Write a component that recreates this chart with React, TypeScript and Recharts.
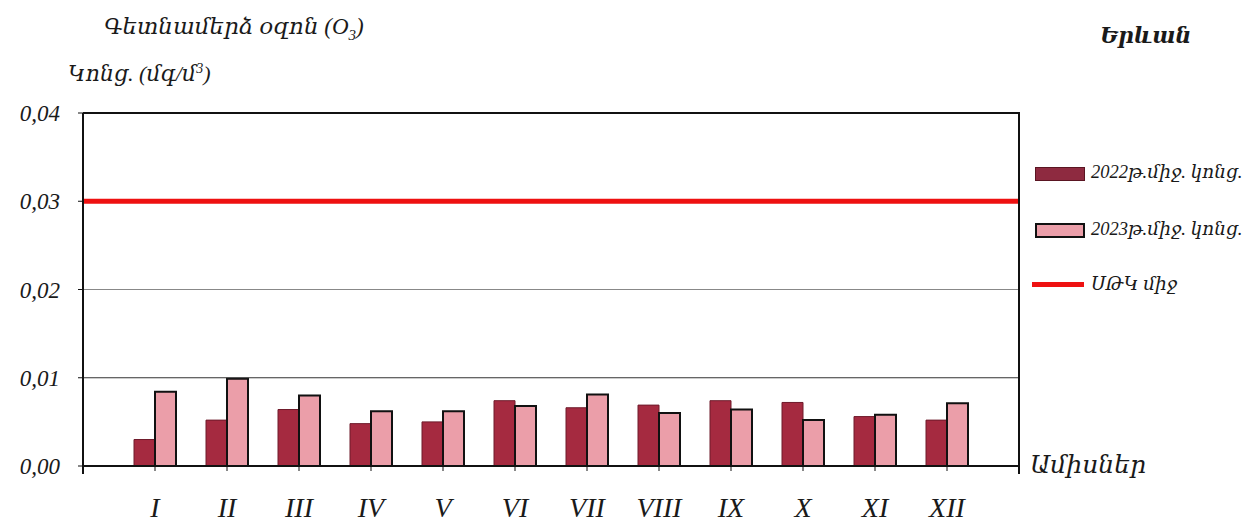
import { BarChart, Bar, XAxis, YAxis, ReferenceLine } from 'recharts';

const months = ['I', 'II', 'III', 'IV', 'V', 'VI', 'VII', 'VIII', 'IX', 'X', 'XI', 'XII'];
const avg2022 = [0.003, 0.0052, 0.0064, 0.0048, 0.005, 0.0074, 0.0066, 0.0069, 0.0074, 0.0072, 0.0056, 0.0052];
const avg2023 = [0.0084, 0.0099, 0.008, 0.0062, 0.0062, 0.0068, 0.0081, 0.006, 0.0064, 0.0052, 0.0058, 0.0071];
const mpcAvg = 0.03;
const yTicks = [0, 0.01, 0.02, 0.03, 0.04];

const seriesNames = ['2022թ.միջ. կոնց.', '2023թ.միջ. կոնց.', 'ՍԹԿ միջ'];

const data = months.map((m, i) => ({ month: m, y2022: avg2022[i], y2023: avg2023[i] }));

const FONT = "'Liberation Serif', 'DejaVu Serif', serif";
const C2022 = '#a52a40';
const C2023 = '#eb9ea9';

const fmt = (v: number) => v.toFixed(2).replace('.', ',');

const txt = (extra: React.CSSProperties): React.CSSProperties => ({
  position: 'absolute',
  fontFamily: FONT,
  fontStyle: 'italic',
  color: '#1a1a1a',
  whiteSpace: 'nowrap',
  lineHeight: 1,
  ...extra,
});

export default function App() {
  return (
    <div style={{ position: 'absolute', left: 0, top: 0, width: 1259, height: 525, background: '#fff' }}>
      <BarChart
        width={1259}
        height={525}
        data={data}
        margin={{ top: 113, right: 240, bottom: 0, left: 0 }}
        barGap={0}
        barSize={21}
      >
        <XAxis
          dataKey="month"
          padding={{ left: 36, right: 36 }}
          height={59}
          axisLine={{ stroke: '#111', strokeWidth: 2 }}
          tickLine={{ stroke: '#111' }}
          tickSize={5}
          tickMargin={26}
          tick={{ fill: '#1a1a1a', fontSize: 28, fontStyle: 'italic', fontFamily: FONT }}
        />
        <XAxis xAxisId="full" type="number" domain={[0, 1]} allowDataOverflow hide />
        <YAxis
          width={83}
          domain={[0, 0.04]}
          ticks={yTicks}
          tickFormatter={fmt}
          axisLine={{ stroke: '#111', strokeWidth: 2 }}
          tickLine={{ stroke: '#111' }}
          tickSize={5}
          tickMargin={18}
          tick={{ fill: '#1a1a1a', fontSize: 23, fontStyle: 'italic', fontFamily: FONT }}
        />
        <ReferenceLine xAxisId="full" y={0.01} stroke="#333" strokeWidth={1.2} />
        <ReferenceLine xAxisId="full" y={0.02} stroke="#888" strokeWidth={1} />
        <ReferenceLine xAxisId="full" y={0.04} stroke="#111" strokeWidth={2} />
        <Bar dataKey="y2022" fill={C2022} stroke="#6e1a2a" strokeWidth={1} isAnimationActive={false} />
        <Bar dataKey="y2023" fill={C2023} stroke="#111" strokeWidth={2} isAnimationActive={false} />
        <ReferenceLine xAxisId="full" y={mpcAvg} stroke="#ee1111" strokeWidth={5} />
      </BarChart>

      {/* plot frame: right edge and short stubs below the axis */}
      <div style={{ position: 'absolute', left: 1018, top: 112, width: 2, height: 362, background: '#111' }} />
      <div style={{ position: 'absolute', left: 82, top: 466, width: 2, height: 8, background: '#111' }} />

      <div style={txt({ left: 104, top: 15, fontSize: 23 })}>Գետնամերձ օզոն (O<sub style={{ fontSize: 15 }}>3</sub>)</div>
      <div style={txt({ left: 68, top: 62, fontSize: 22 })}>Կոնց. (մգ/մ<sup style={{ fontSize: 14 }}>3</sup>)</div>
      <div style={txt({ left: 1100, top: 25, fontSize: 22, fontWeight: 'bold' })}>Երևան</div>
      <div style={txt({ left: 1030, top: 452, fontSize: 25 })}>Ամիսներ</div>

      <div style={{ position: 'absolute', left: 1035, top: 167, width: 48, height: 12, background: '#8e2a40', border: '1px solid #5a1522' }} />
      <div style={txt({ left: 1091, top: 163, fontSize: 18.5 })}>{seriesNames[0]}</div>
      <div style={{ position: 'absolute', left: 1035, top: 223, width: 46, height: 11, background: C2023, border: '2px solid #111' }} />
      <div style={txt({ left: 1091, top: 220, fontSize: 18.5 })}>{seriesNames[1]}</div>
      <div style={{ position: 'absolute', left: 1032, top: 282, width: 52, height: 5, background: '#ee1111' }} />
      <div style={txt({ left: 1091, top: 275, fontSize: 18.5 })}>{seriesNames[2]}</div>
    </div>
  );
}
